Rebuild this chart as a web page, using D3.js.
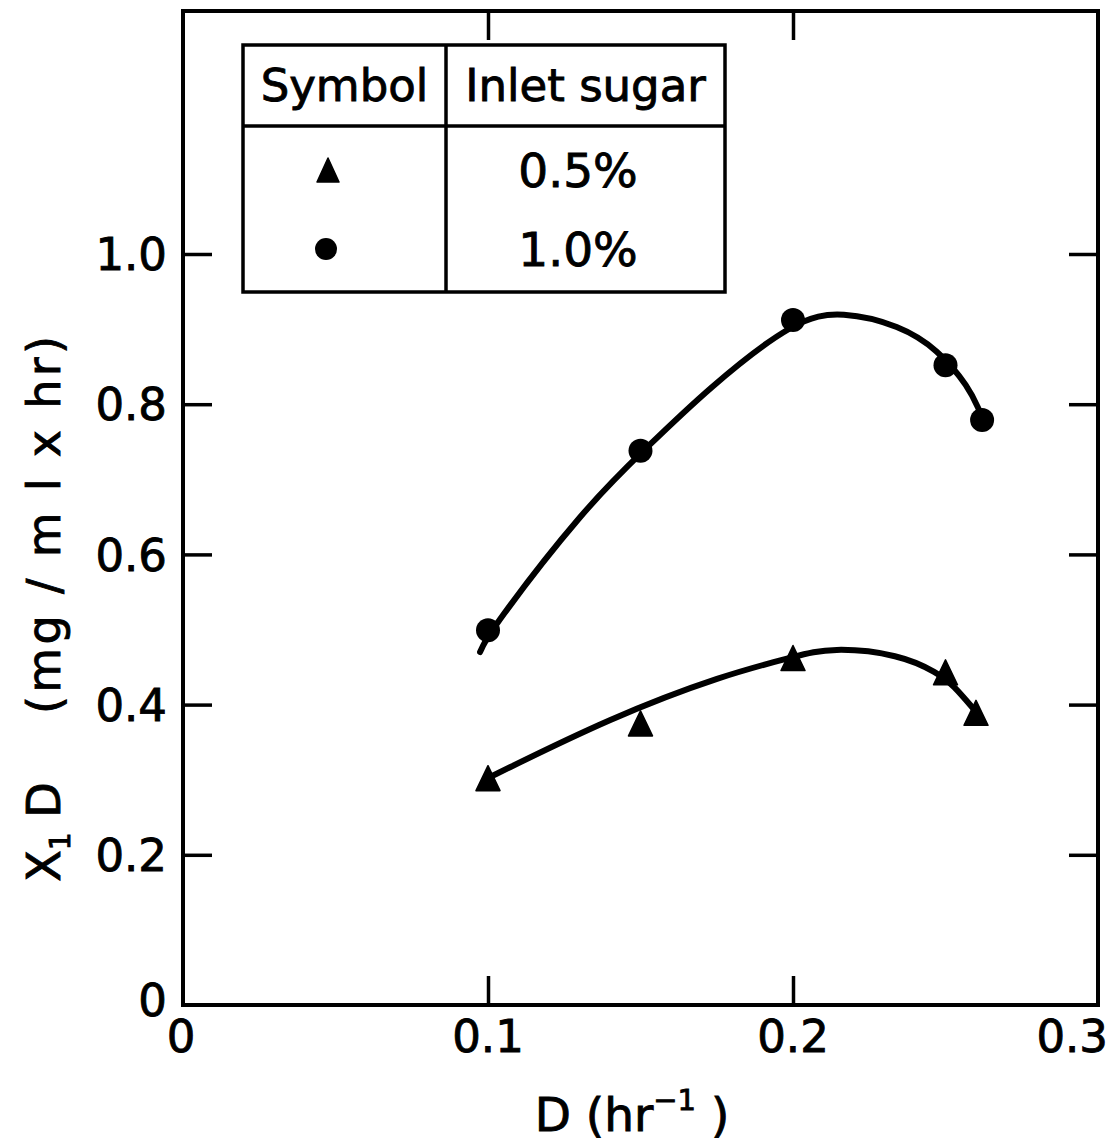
<!DOCTYPE html>
<html>
<head>
<meta charset="utf-8">
<script src="https://cdn.jsdelivr.net/npm/d3@7"></script>
<style>
  html, body { margin: 0; padding: 0; background: #fff; }
  svg { display: block; }
  text { font-family: "DejaVu Sans", sans-serif; fill: #000; stroke: #000; stroke-width: 0.9px; }
</style>
</head>
<body>
<svg id="chart" width="1113" height="1141"></svg>
<script>
// ---- data ----
const xTicks = [0, 0.1, 0.2, 0.3];
const xTickLabels = ["0", "0.1", "0.2", "0.3"];
const yTicks = [0, 0.2, 0.4, 0.6, 0.8, 1.0];
const yTickLabels = ["0", "0.2", "0.4", "0.6", "0.8", "1.0"];

// 0.5% inlet sugar (triangles)
const triD = [0.10, 0.15, 0.20, 0.25, 0.26];
const triY = [0.302, 0.375, 0.462, 0.443, 0.389];
// 1.0% inlet sugar (circles)
const cirD = [0.10, 0.15, 0.20, 0.25, 0.262];
const cirY = [0.499, 0.738, 0.912, 0.852, 0.779];

// hand-drawn fitted curves
const upperCurveD = [0.0974, 0.1007, 0.132, 0.1515, 0.1721, 0.201, 0.216, 0.2351, 0.2475, 0.2577, 0.2613];
const upperCurveY = [0.470, 0.499, 0.6635, 0.740, 0.821, 0.914, 0.924, 0.905, 0.873, 0.8229, 0.7896];
const lowerCurveD = [0.1007, 0.1407, 0.1772, 0.201, 0.2125, 0.2351, 0.2475, 0.2525, 0.2595];
const lowerCurveY = [0.3036, 0.3835, 0.4394, 0.4644, 0.4764, 0.467, 0.4421, 0.4261, 0.3928];

const legendSymbols = ["triangle", "circle"];
const legendLabels = ["0.5%", "1.0%"];
const legendHeaders = ["Symbol", "Inlet sugar"];

// ---- layout ----
const svg = d3.select("#chart");
const L = 183, R = 1098, T = 11, B = 1005;
const x = d3.scaleLinear().domain([0, 0.3]).range([L, R]);
const y = d3.scaleLinear().domain([0, (B - T) / 751]).range([B, T]);

const ink = "#000";

// frame
svg.append("rect")
  .attr("x", L).attr("y", T).attr("width", R - L).attr("height", B - T)
  .attr("fill", "none").attr("stroke", ink).attr("stroke-width", 4);

const tickLen = 29;
const xBottom = d3.axisBottom(x).tickValues([0.1, 0.2]).tickSize(-tickLen).tickFormat("");
const xTop = d3.axisTop(x).tickValues([0.1, 0.2]).tickSize(-tickLen).tickFormat("");
const yLeft = d3.axisLeft(y).tickValues([0.2, 0.4, 0.6, 0.8, 1.0]).tickSize(-tickLen).tickFormat("");
const yRight = d3.axisRight(y).tickValues([0.2, 0.4, 0.6, 0.8, 1.0]).tickSize(-tickLen).tickFormat("");

function styleAxis(g) {
  g.select(".domain").remove();
  g.selectAll(".tick line").attr("stroke", ink).attr("stroke-width", 3.5);
}
svg.append("g").attr("transform", `translate(0,${B})`).call(xBottom).call(styleAxis);
svg.append("g").attr("transform", `translate(0,${T})`).call(xTop).call(styleAxis);
svg.append("g").attr("transform", `translate(${L},0)`).call(yLeft).call(styleAxis);
svg.append("g").attr("transform", `translate(${R},0)`).call(yRight).call(styleAxis);

// tick labels
const fsTick = 45;
svg.append("g").selectAll("text").data(yTicks).join("text")
  .attr("x", L - 16)
  .attr("y", d => y(d) + (d === 0 ? -5 : 0))
  .attr("dy", "0.36em")
  .attr("text-anchor", "end")
  .attr("font-size", fsTick)
  .text((d, i) => yTickLabels[i]);

svg.append("g").selectAll("text").data(xTicks).join("text")
  .attr("x", d => d === 0.3 ? x(d) + 10 : x(d) - (d === 0 ? 2 : 0))
  .attr("y", 1052)
  .attr("text-anchor", d => d === 0.3 ? "end" : "middle")
  .attr("font-size", fsTick)
  .text((d, i) => xTickLabels[i]);

// axis titles
const xt = svg.append("text")
  .attr("x", 632).attr("y", 1131)
  .attr("text-anchor", "middle")
  .attr("font-size", 47);
xt.append("tspan").text("D  (hr");
xt.append("tspan").attr("font-size", 29).attr("dy", -21).text("−1");
xt.append("tspan").attr("dy", 21).text(" )");

// y title in two parts, rotated
const yt1 = svg.append("text")
  .attr("transform", "translate(60,832) rotate(-90)")
  .attr("text-anchor", "middle")
  .attr("font-size", 46);
yt1.append("tspan").text("X");
yt1.append("tspan").attr("font-size", 28).attr("dy", 10).text("1");
yt1.append("tspan").attr("dy", -10).text(" D");

svg.append("text")
  .attr("transform", "translate(60,525) rotate(-90)")
  .attr("text-anchor", "middle")
  .attr("font-size", 46)
  .attr("textLength", 378)
  .attr("lengthAdjust", "spacing")
  .text("(mg / m l x hr)");

// curves
const line = d3.line().x(d => x(d[0])).y(d => y(d[1])).curve(d3.curveBasis);
svg.append("path")
  .attr("d", line(upperCurveD.map((d, i) => [d, upperCurveY[i]])))
  .attr("fill", "none").attr("stroke", ink).attr("stroke-width", 6).attr("stroke-linecap", "round");
svg.append("path")
  .attr("d", line(lowerCurveD.map((d, i) => [d, lowerCurveY[i]])))
  .attr("fill", "none").attr("stroke", ink).attr("stroke-width", 6).attr("stroke-linecap", "round");

// markers
function triPath(cx, cy, w, h) {
  return `M${cx},${cy - h / 2}L${cx + w / 2},${cy + h / 2}L${cx - w / 2},${cy + h / 2}Z`;
}
svg.append("g").selectAll("path").data(triD).join("path")
  .attr("d", (d, i) => triPath(x(d), y(triY[i]), 24, 25))
  .attr("fill", ink).attr("stroke", ink).attr("stroke-width", 1.5).attr("stroke-linejoin", "round");
svg.append("g").selectAll("circle").data(cirD).join("circle")
  .attr("cx", d => x(d)).attr("cy", (d, i) => y(cirY[i]))
  .attr("r", 12).attr("fill", ink);

// legend table
const tL = 243, tR = 725, tT = 45, tB = 292, tMid = 126, tCol = 446;
const lg = svg.append("g");
lg.append("rect").attr("x", tL).attr("y", tT).attr("width", tR - tL).attr("height", tB - tT)
  .attr("fill", "#fff").attr("stroke", ink).attr("stroke-width", 3.5);
lg.append("line").attr("x1", tL).attr("x2", tR).attr("y1", tMid).attr("y2", tMid)
  .attr("stroke", ink).attr("stroke-width", 3.5);
lg.append("line").attr("x1", tCol).attr("x2", tCol).attr("y1", tT).attr("y2", tB)
  .attr("stroke", ink).attr("stroke-width", 3.5);
lg.selectAll("text.h").data(legendHeaders).join("text").attr("class", "h")
  .attr("x", (d, i) => i === 0 ? (tL + tCol) / 2 : (tCol + tR) / 2)
  .attr("y", 101)
  .attr("text-anchor", "middle")
  .attr("font-size", 45)
  .text(d => d);
const rowY = [170, 249];
lg.selectAll("text.r").data(legendLabels).join("text").attr("class", "r")
  .attr("x", 578)
  .attr("y", (d, i) => rowY[i])
  .attr("dy", "0.36em")
  .attr("text-anchor", "middle")
  .attr("font-size", 47)
  .text(d => d);
legendSymbols.forEach((s, i) => {
  if (s === "triangle") {
    lg.append("path").attr("d", triPath(328, rowY[i], 22, 24)).attr("fill", ink)
      .attr("stroke", ink).attr("stroke-width", 1.5).attr("stroke-linejoin", "round");
  } else {
    lg.append("circle").attr("cx", 326).attr("cy", rowY[i]).attr("r", 11).attr("fill", ink);
  }
});
</script>
</body>
</html>
